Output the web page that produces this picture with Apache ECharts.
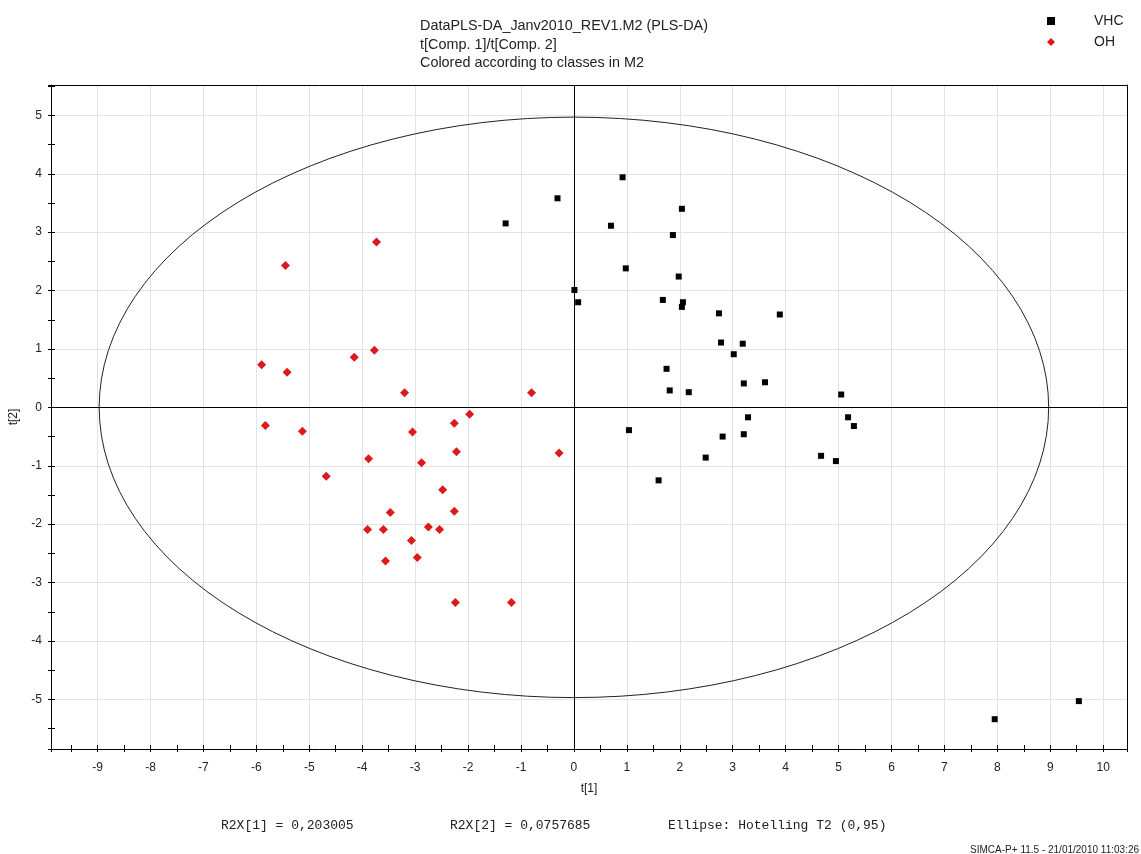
<!DOCTYPE html>
<html>
<head>
<meta charset="utf-8">
<script src="https://cdn.jsdelivr.net/npm/echarts@6/dist/echarts.min.js"></script>
<style>html,body{margin:0;padding:0;background:#fff}#c{width:1141px;height:854px}</style>
</head>
<body>
<div id="c"></div>
<script>
// ---- data ----
const vhcT1 = [-1.29,-0.31,0.92,2.04,0.70,1.87,0.98,1.98,0.01,0.08,1.68,2.06,2.04,2.74,3.89,2.78,3.19,3.02,1.75,1.81,2.17,3.21,3.61,5.05,1.04,3.29,5.18,5.29,2.81,3.21,2.49,4.67,4.95,1.60,7.95,9.54];
const vhcT2 = [3.15,3.58,3.94,3.40,3.11,2.95,2.38,2.24,2.01,1.80,1.84,1.80,1.72,1.61,1.59,1.11,1.09,0.91,0.66,0.29,0.26,0.41,0.43,0.22,-0.39,-0.17,-0.17,-0.32,-0.50,-0.46,-0.86,-0.83,-0.92,-1.25,-5.34,-5.03];
const ohT1 = [-5.45,-3.73,-5.90,-5.42,-4.15,-3.77,-3.20,-0.80,-1.97,-5.83,-5.13,-3.05,-2.26,-2.22,-0.28,-3.88,-2.88,-4.68,-2.48,-3.47,-2.26,-3.90,-3.60,-2.75,-2.54,-3.07,-2.96,-3.56,-2.24,-1.18];
const ohT2 = [2.43,2.83,0.73,0.60,0.86,0.98,0.25,0.25,-0.12,-0.31,-0.41,-0.42,-0.27,-0.76,-0.78,-0.88,-0.95,-1.18,-1.41,-1.80,-1.78,-2.09,-2.09,-2.05,-2.09,-2.28,-2.57,-2.63,-3.34,-3.34];
const classNames = ['VHC', 'OH'];
const ellipseT1 = 8.97;   // Hotelling T2 (0.95) semi-axis along t[1]
const ellipseT2 = 4.97;   // semi-axis along t[2]
const titleLines = ['DataPLS-DA_Janv2010_REV1.M2 (PLS-DA)', 't[Comp. 1]/t[Comp. 2]', 'Colored according to classes in M2'];
const footerTexts = ['R2X[1] = 0,203005', 'R2X[2] = 0,0757685', 'Ellipse: Hotelling T2 (0,95)'];
const stampText = 'SIMCA-P+ 11.5 - 21/01/2010 11:03:26';
const xRange = [-9.88, 10.45];
const yRange = [-5.85, 5.52];

const zip = (a, b) => a.map((v, i) => [v, b[i]]);

const chart = echarts.init(document.getElementById('c'), null, {renderer: 'canvas'});
const FONT = 'Liberation Sans, Arial, sans-serif';
const MONO = 'Liberation Mono, Courier New, monospace';

function axisPair(dimRange, split, isX) {
  const common = {
    type: 'value', min: dimRange[0], max: dimRange[1], splitNumber: split,
    minInterval: 1, maxInterval: 1, gridIndex: 0
  };
  const main = Object.assign({}, common, {
    position: isX ? 'bottom' : 'left',
    axisLine: {show: true, onZero: false, lineStyle: {color: '#000', width: 1}},
    axisTick: {show: true, inside: true, length: 4, lineStyle: {color: '#000'}},
    minorTick: {show: true, splitNumber: 2, length: 4, lineStyle: {color: '#000'}},
    splitLine: {show: true, showMinLine: false, showMaxLine: false, lineStyle: {color: '#e3e3e3', width: 1}},
    axisLabel: {
      show: true, color: '#222', fontFamily: FONT, fontSize: 12, margin: isX ? 13 : 9,
      showMinLabel: false, showMaxLabel: false,
      formatter: v => (Math.abs(v - Math.round(v)) < 1e-9 ? String(Math.round(v)) : '')
    },
    name: isX ? 't[1]' : 't[2]', nameLocation: 'middle', nameGap: isX ? 34 : 31,
    nameTextStyle: {color: '#222', fontFamily: FONT, fontSize: 12}
  });
  const outer = Object.assign({}, common, {
    position: isX ? 'bottom' : 'left',
    axisLine: {show: false, onZero: false},
    axisTick: {show: true, inside: false, length: 3, lineStyle: {color: '#000'}},
    minorTick: {show: true, splitNumber: 2, length: 3, lineStyle: {color: '#000'}},
    splitLine: {show: false}, axisLabel: {show: false}
  });
  const frame = Object.assign({}, common, {
    position: isX ? 'top' : 'right',
    axisLine: {show: true, onZero: false, lineStyle: {color: '#000', width: 1}},
    axisTick: {show: false}, splitLine: {show: false}, axisLabel: {show: false}
  });
  return [main, outer, frame];
}

const option = {
  backgroundColor: '#fff',
  animation: false,
  title: [
    {text: titleLines.join('\n'), left: 415, top: 12,
     textStyle: {fontFamily: FONT, fontSize: 14.4, fontWeight: 'normal', color: '#222', lineHeight: 18.5}},
    {text: footerTexts[0], left: 216, top: 814, textStyle: {fontFamily: MONO, fontSize: 13, fontWeight: 'normal', color: '#222'}},
    {text: footerTexts[1], left: 445, top: 814, textStyle: {fontFamily: MONO, fontSize: 13, fontWeight: 'normal', color: '#222'}},
    {text: footerTexts[2], left: 663, top: 814, textStyle: {fontFamily: MONO, fontSize: 13, fontWeight: 'normal', color: '#222'}},
    {text: stampText, right: -3, top: 840, textStyle: {fontFamily: FONT, fontSize: 10, fontWeight: 'normal', color: '#222'}}
  ],
  legend: {
    orient: 'vertical', left: 1042, top: 9, itemGap: 7,
    itemWidth: 8, itemHeight: 8, symbolKeepAspect: true,
    data: classNames,
    textStyle: {fontFamily: FONT, fontSize: 14, color: '#222', padding: [0, 0, 0, 34]}
  },
  grid: {left: 48, right: 14, top: 85, bottom: 105, show: false, containLabel: false},
  xAxis: axisPair(xRange, 20, true),
  yAxis: axisPair(yRange, 11, false),
  series: [
    {
      type: 'custom', coordinateSystem: 'cartesian2d', silent: true, z: 1,
      data: [[0, 0]],
      renderItem: (params, api) => {
        const c = api.coord([0, 0]);
        const rx = api.size([ellipseT1, 0])[0];
        const ry = api.size([0, ellipseT2])[1];
        const d = `M ${c[0] - rx} ${c[1]} A ${rx} ${ry} 0 1 0 ${c[0] + rx} ${c[1]} A ${rx} ${ry} 0 1 0 ${c[0] - rx} ${c[1]} Z`;
        return {type: 'path', shape: {pathData: d}, style: {fill: 'none', stroke: '#222', lineWidth: 1}};
      }
    },
    {
      name: classNames[0], type: 'scatter', z: 3,
      symbol: 'rect', symbolSize: 6,
      itemStyle: {color: '#000', opacity: 1},
      data: zip(vhcT1, vhcT2),
      markLine: {
        silent: true, symbol: ['none', 'none'], label: {show: false},
        lineStyle: {color: '#000', width: 1, type: 'solid'},
        emphasis: {disabled: true},
        data: [{xAxis: 0}, {yAxis: 0}]
      }
    },
    {
      name: classNames[1], type: 'scatter', z: 3,
      symbol: 'diamond', symbolSize: 9,
      itemStyle: {color: '#dc1a1c', opacity: 1},
      data: zip(ohT1, ohT2)
    }
  ]
};
chart.setOption(option);
</script>
</body>
</html>
